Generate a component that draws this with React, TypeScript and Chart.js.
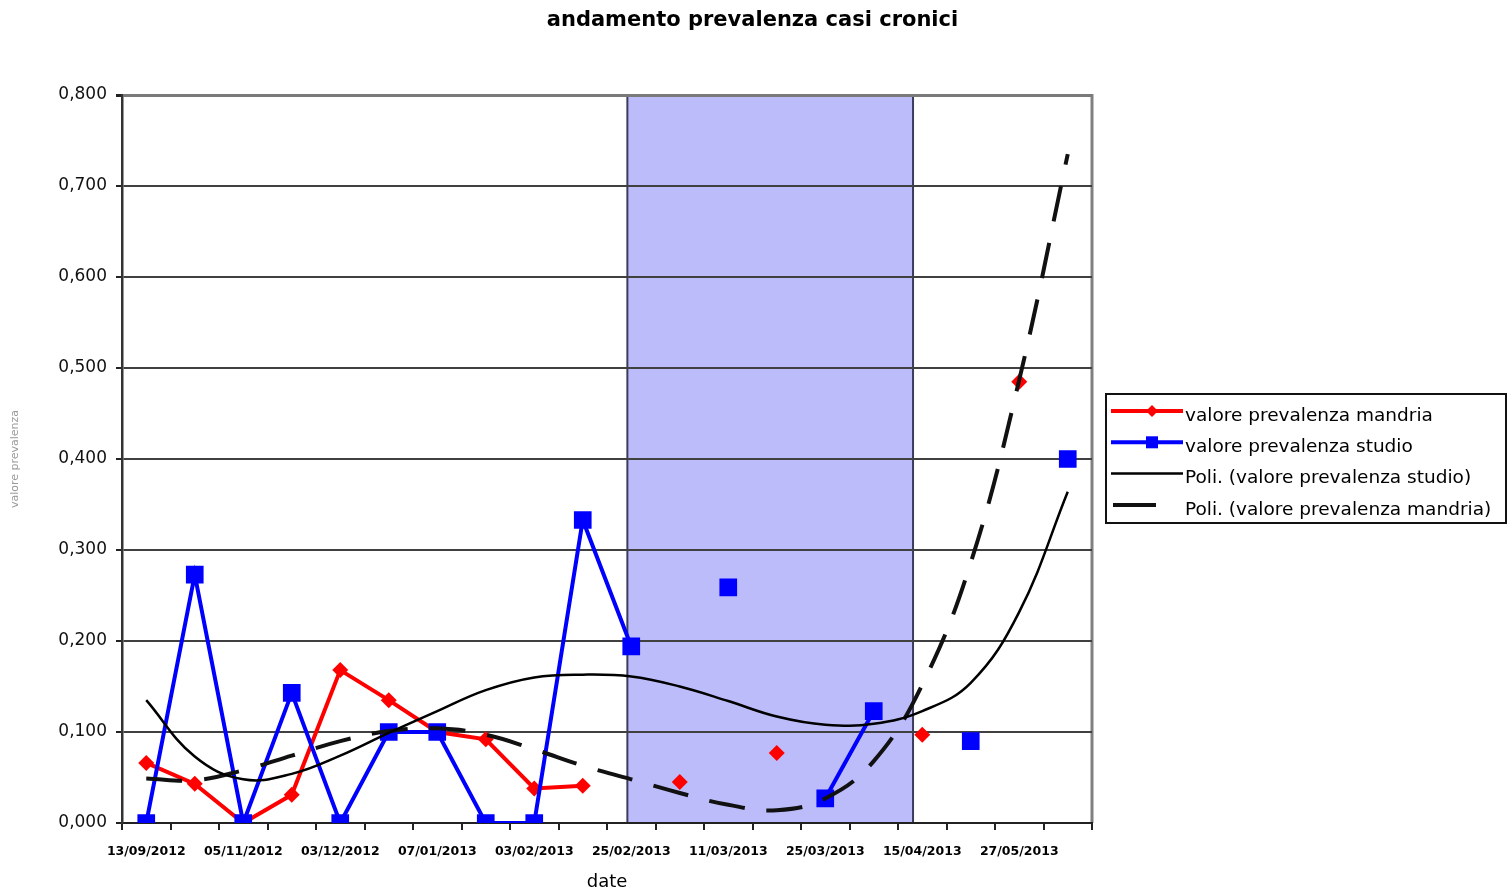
import React, { useEffect, useRef } from "react";
import { Chart, registerables } from "chart.js";

Chart.register(...registerables);

// Category labels (only every other sampling date is printed on the axis)
const dateLabels = [
  "13/09/2012", "", "05/11/2012", "", "03/12/2012", "", "07/01/2013", "",
  "03/02/2013", "", "25/02/2013", "", "11/03/2013", "", "25/03/2013", "",
  "15/04/2013", "", "27/05/2013", "",
];

// Prevalence of chronic cases in the whole herd
const prevalenzaMandria = [
  0.066, 0.043, 0.0, 0.031, 0.168, 0.135, 0.1, 0.092, 0.038, 0.041,
  null, 0.045, null, 0.077, null, null, 0.097, null, 0.485, null,
];

// Prevalence of chronic cases in the study group
const prevalenzaStudio = [
  0.0, 0.273, 0.0, 0.143, 0.0, 0.1, 0.1, 0.0, 0.0, 0.333,
  0.194, null, 0.259, null, 0.027, 0.123, null, 0.09, null, 0.4,
];

// Polynomial trend of the study group
const trendStudio = [
  0.135, 0.073, 0.048, 0.054, 0.074, 0.099, 0.123, 0.146, 0.16, 0.163,
  0.161, 0.15, 0.134, 0.117, 0.108, 0.109, 0.123, 0.154, 0.232, 0.364,
];

// Polynomial trend of the herd
const trendMandria = [
  0.049, 0.047, 0.058, 0.074, 0.09, 0.101, 0.104, 0.097, 0.081, 0.063,
  0.048, 0.033, 0.02, 0.014, 0.027, 0.068, 0.152, 0.286, 0.487, 0.735,
];

const yTicks = [0, 0.1, 0.2, 0.3, 0.4, 0.5, 0.6, 0.7, 0.8];

const chartTitle = "andamento prevalenza casi cronici";

// Highlighted period, expressed on the category axis
const periodoStart = 9.92;
const periodoEnd = 15.81;

const FONT = '"DejaVu Sans", "Liberation Sans", sans-serif';
const RED = "#ff0000";
const BLUE = "#0000ff";

const backgroundPlugin = {
  id: "periodBand",
  beforeDraw(chart: any) {
    const { ctx, chartArea, scales } = chart;
    const x = scales.x;
    const l = x.getPixelForValue(periodoStart);
    const r = x.getPixelForValue(periodoEnd);
    ctx.save();
    ctx.fillStyle = "rgb(188,188,250)";
    ctx.fillRect(l, chartArea.top, r - l, chartArea.bottom - chartArea.top);
    ctx.strokeStyle = "#3c3c5e";
    ctx.lineWidth = 2;
    ctx.beginPath();
    ctx.moveTo(l, chartArea.top);
    ctx.lineTo(l, chartArea.bottom);
    ctx.moveTo(r, chartArea.top);
    ctx.lineTo(r, chartArea.bottom);
    ctx.stroke();
    // plot-area frame on the right
    ctx.strokeStyle = "#808080";
    ctx.lineWidth = 3;
    ctx.beginPath();
    ctx.moveTo(chartArea.right, chartArea.top - 1);
    ctx.lineTo(chartArea.right, chartArea.bottom);
    ctx.stroke();
    // chart title, centred on the whole canvas
    ctx.fillStyle = "#000";
    ctx.font = `bold 21px ${FONT}`;
    ctx.textAlign = "center";
    ctx.textBaseline = "middle";
    ctx.fillText(chartTitle, chart.width / 2 - 2, 21);
    ctx.restore();
  },
};

const legendPlugin = {
  id: "boxLegend",
  afterDraw(chart: any) {
    const { ctx, chartArea } = chart;
    const ds = chart.data.datasets;
    const order = [3, 2, 0, 1];
    const left = chartArea.right + 14;
    const top = (chartArea.top + chartArea.bottom) / 2 - 65;
    const w = 400;
    const h = 129;
    ctx.save();
    ctx.fillStyle = "#ffffff";
    ctx.fillRect(left, top, w, h);
    ctx.strokeStyle = "#111";
    ctx.lineWidth = 2;
    ctx.strokeRect(left, top, w, h);
    const rowGap = 31.3;
    order.forEach((idx, i) => {
      const d = ds[idx];
      const ty = top + 22 + i * rowGap;
      const ly = ty - 5;
      const x0 = left + 5;
      const x1 = left + 77;
      ctx.setLineDash([]);
      ctx.strokeStyle = d.borderColor;
      ctx.lineWidth = d.borderWidth;
      ctx.beginPath();
      if (d.borderDash && d.borderDash.length) {
        ctx.moveTo(x0 + 2, ly);
        ctx.lineTo(x0 + 45, ly);
      } else {
        ctx.moveTo(x0, ly);
        ctx.lineTo(x1, ly);
      }
      ctx.stroke();
      const cx = (x0 + x1) / 2 + 5;
      ctx.fillStyle = d.borderColor;
      if (d.pointStyle === "rectRot") {
        ctx.beginPath();
        ctx.moveTo(cx, ly - 6);
        ctx.lineTo(cx + 6, ly);
        ctx.lineTo(cx, ly + 6);
        ctx.lineTo(cx - 6, ly);
        ctx.closePath();
        ctx.fill();
      } else if (d.pointStyle === "rect" && d.pointRadius > 0) {
        ctx.fillRect(cx - 6, ly - 6, 12, 12);
      }
      ctx.fillStyle = "#000";
      ctx.font = `18.5px ${FONT}`;
      ctx.textBaseline = "middle";
      ctx.textAlign = "left";
      ctx.fillText(d.label, x1 + 2, ty);
    });
    ctx.restore();
  },
};

export default function App() {
  const canvasRef = useRef<HTMLCanvasElement | null>(null);

  useEffect(() => {
    if (!canvasRef.current) return;
    const chart = new Chart(canvasRef.current, {
      type: "line",
      data: {
        labels: dateLabels,
        datasets: [
          {
            label: "Poli. (valore prevalenza studio)",
            data: trendStudio,
            borderColor: "#000000",
            borderWidth: 2.5,
            pointRadius: 0,
            tension: 0.4,
            fill: false,
            order: 0,
          },
          {
            label: "Poli. (valore prevalenza mandria)",
            data: trendMandria,
            borderColor: "#111111",
            borderWidth: 4,
            borderDash: [36, 22],
            pointRadius: 0,
            tension: 0.4,
            fill: false,
            order: 1,
          },
          {
            label: "valore prevalenza studio",
            data: prevalenzaStudio,
            borderColor: BLUE,
            backgroundColor: BLUE,
            borderWidth: 4,
            pointStyle: "rect",
            pointRadius: 12.5,
            pointBackgroundColor: BLUE,
            pointBorderWidth: 0,
            tension: 0,
            spanGaps: false,
            order: 2,
          },
          {
            label: "valore prevalenza mandria",
            data: prevalenzaMandria,
            borderColor: RED,
            backgroundColor: RED,
            borderWidth: 4,
            pointStyle: "rectRot",
            pointRadius: 8,
            pointBackgroundColor: RED,
            pointBorderWidth: 0,
            tension: 0,
            spanGaps: false,
            order: 3,
          },
        ],
      },
      options: {
        responsive: false,
        animation: false,
        devicePixelRatio: 1,
        events: [],
        layout: { padding: { left: 0, right: 417, top: 95, bottom: 0 } },
        plugins: {
          legend: { display: false },
          tooltip: { enabled: false },
          title: { display: false },
        },
        scales: {
          x: {
            type: "category",
            offset: true,
            afterFit: (s: any) => {
              s.height = 70;
            },
            grid: {
              offset: true,
              drawOnChartArea: false,
              drawTicks: true,
              tickLength: 7,
              color: "#222",
              lineWidth: 2,
            },
            border: { color: "#222", width: 2 },
            ticks: {
              autoSkip: false,
              maxRotation: 0,
              minRotation: 0,
              padding: 14,
              color: "#000",
              font: { family: FONT, size: 12.5, weight: "bold" },
            },
            title: {
              display: true,
              text: "date",
              color: "#000",
              font: { family: FONT, size: 18 },
              padding: { top: 0, bottom: 0 },
            },
          },
          y: {
            min: 0,
            max: 0.8,
            afterFit: (s: any) => {
              s.width = 122;
            },
            afterBuildTicks: (s: any) => {
              s.ticks = yTicks.map((v) => ({ value: v }));
            },
            grid: {
              color: (c: any) => (c.tick && c.tick.value === 0.8 ? "#7a7a7a" : "#404040"),
              lineWidth: (c: any) => (c.tick && c.tick.value === 0.8 ? 3 : 2),
              tickLength: 6,
              tickColor: "#222",
            },
            border: { color: "#333", width: 2.5 },
            ticks: {
              padding: 9,
              color: "#111",
              font: { family: FONT, size: 17 },
              callback: (v: any) => Number(v).toFixed(3).replace(".", ","),
            },
            title: {
              display: true,
              text: "valore prevalenza",
              color: "#9a9a9a",
              font: { family: FONT, size: 11 },
              padding: { top: 9, bottom: 0 },
            },
          },
        },
      },
      plugins: [backgroundPlugin, legendPlugin],
    } as any);
    return () => chart.destroy();
  }, []);

  return (
    <div style={{ position: "absolute", left: 0, top: 0, width: 1509, height: 893, background: "#fff" }}>
      <canvas ref={canvasRef} width={1509} height={893} style={{ display: "block" }} />
    </div>
  );
}
